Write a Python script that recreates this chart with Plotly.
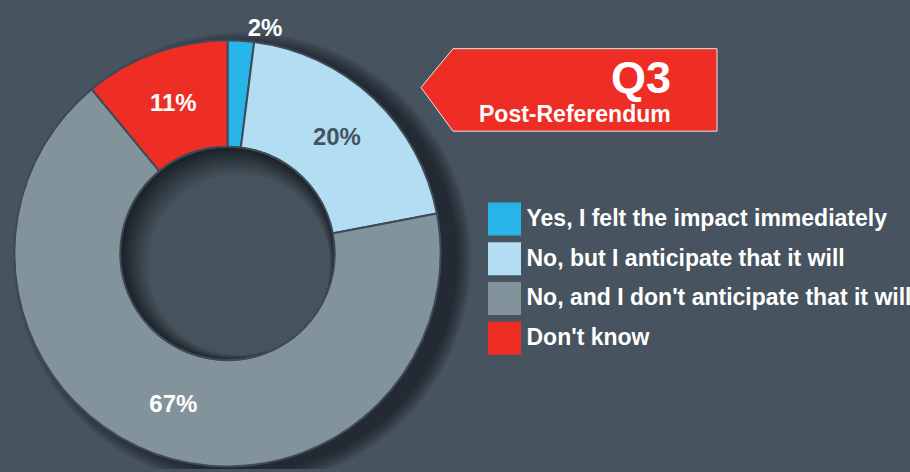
import plotly.graph_objects as go

# survey answers, clockwise from 12 o'clock
categories = [
    "Yes, I felt the impact immediately",
    "No, but I anticipate that it will",
    "No, and I don't anticipate that it will",
    "Don't know",
]
shares = [2, 20, 67, 11]
colors = ["#27b5e9", "#b3ddf3", "#83939c", "#ee2e24"]
label_colors = ["white", "#46535d", "white", "white"]
label_pos = ["outside", "inside", "inside", "inside"]

title_main = "Q3"
title_sub = "Post-Referendum"

W, H = 910, 472
BG = "#47545f"
FONT = "Liberation Sans"

# donut geometry in pixels
cx, cy, r_out = 227.5, 255, 214.5
hole = 0.5
r_in = r_out * hole

fig = go.Figure()

fig.add_trace(
    go.Pie(
        labels=categories,
        values=shares,
        sort=False,
        direction="clockwise",
        rotation=0,
        hole=hole,
        marker=dict(colors=colors, line=dict(color="#3e4a55", width=2)),
        texttemplate="%{value}%",
        textposition=label_pos,
        insidetextorientation="horizontal",
        textfont=dict(family=FONT, size=24, color=label_colors, weight="bold"),
        outsidetextfont=dict(family=FONT, size=24, color="white", weight="bold"),
        showlegend=False,
        hoverinfo="skip",
        domain=dict(
            x=[(cx - r_out) / W, (cx + r_out) / W],
            y=[(H - cy - r_out) / H, (H - cy + r_out) / H],
        ),
    )
)

# legend built as big square markers + labels
leg_x, leg_y0, leg_step = 504.5, 220.5, 40
leg_y = [leg_y0 + i * leg_step for i in range(len(categories))]
fig.add_trace(
    go.Scatter(
        x=[leg_x] * len(categories),
        y=leg_y,
        mode="markers",
        marker=dict(symbol="square", size=33, color=colors, line=dict(width=0)),
        showlegend=False,
        hoverinfo="skip",
        cliponaxis=False,
    )
)
fig.add_trace(
    go.Scatter(
        x=[leg_x + 22] * len(categories),
        y=[v + 1 for v in leg_y],
        mode="text",
        text=categories,
        textposition="middle right",
        textfont=dict(family=FONT, size=23, color="white", weight="bold"),
        showlegend=False,
        hoverinfo="skip",
        cliponaxis=False,
    )
)

shapes = []
# soft drop shadow behind the ring, pushed to the lower right
for k in range(8):
    r = r_out + 2 * k
    shapes.append(dict(
        type="circle", layer="below", xref="x", yref="y",
        x0=cx + 15 - r, x1=cx + 15 + r, y0=cy + 6 - r, y1=cy + 6 + r,
        fillcolor="rgba(15,20,25,0.11)", line=dict(width=0),
    ))


def mix(c1, c2, t):
    a = [int(c1[i:i + 2], 16) for i in (1, 3, 5)]
    b = [int(c2[i:i + 2], 16) for i in (1, 3, 5)]
    return "rgb(%d,%d,%d)" % tuple(round(a[j] + (b[j] - a[j]) * t) for j in range(3))


# inner shadow in the hole
steps = 9
for k in range(steps):
    r = r_in - 2 * k
    off = 2 * k / 1.414
    shapes.append(dict(
        type="circle", xref="x", yref="y",
        x0=cx + off - r, x1=cx + off + r, y0=cy + off - r, y1=cy + off + r,
        fillcolor=mix("#1c2329", "#46535d", k / (steps - 1)),
        line=dict(width=0),
    ))
shapes.append(dict(
    type="circle", xref="x", yref="y",
    x0=cx - r_in, x1=cx + r_in, y0=cy - r_in, y1=cy + r_in,
    line=dict(color="#3e4a55", width=2),
))

# red arrow callout
shapes.append(dict(
    type="path", xref="x", yref="y",
    path="M 421,88 L 453,49 L 717,49 L 717,132 L 453,132 Z",
    fillcolor="#ee2e24", line=dict(color="#e6e6e6", width=1),
))

fig.update_layout(
    width=W,
    height=H,
    margin=dict(l=0, r=0, t=0, b=0),
    paper_bgcolor=BG,
    plot_bgcolor=BG,
    shapes=shapes,
    xaxis=dict(range=[0, W], visible=False, fixedrange=True, domain=[0, 1]),
    yaxis=dict(range=[H, 0], visible=False, fixedrange=True, domain=[0, 1]),
    annotations=[
        dict(x=673, y=78, xref="x", yref="y", text=title_main, showarrow=False,
             xanchor="right", yanchor="middle",
             font=dict(family=FONT, size=45, color="white", weight="bold")),
        dict(x=673, y=115, xref="x", yref="y", text=title_sub, showarrow=False,
             xanchor="right", yanchor="middle",
             font=dict(family=FONT, size=23, color="white", weight="bold")),
    ],
)

fig.write_html(
    "out.html",
    config={"displayModeBar": False},
    post_script="document.body.style.margin='0';document.body.style.overflow='hidden';",
)
